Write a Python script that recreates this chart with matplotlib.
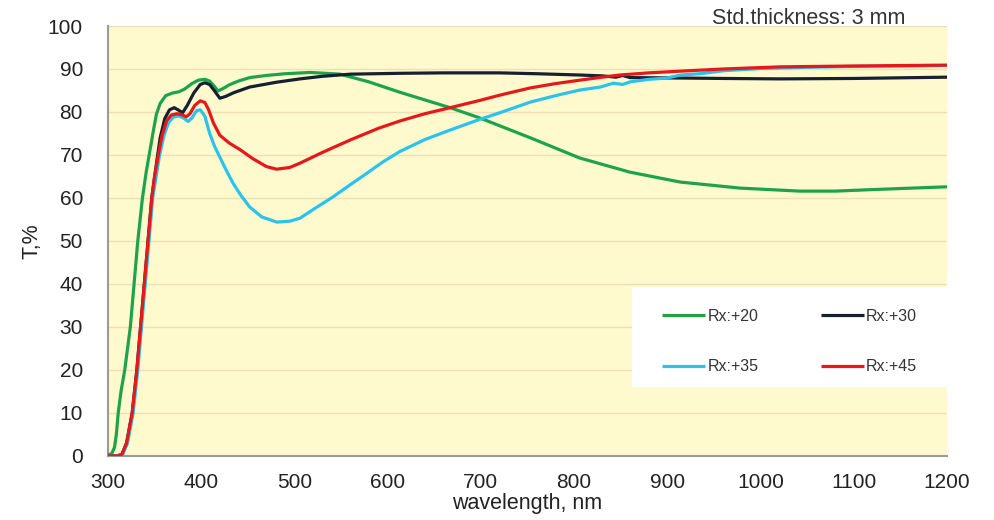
import numpy as np
import matplotlib
matplotlib.use("Agg")
import matplotlib.pyplot as plt
from matplotlib.patches import Rectangle

plt.rcParams['font.family'] = ['Liberation Sans', 'DejaVu Sans']

# Transmission spectra, 3 mm standard thickness
wl_20 = [300, 304, 307, 309, 311, 314, 318, 321, 324, 328, 332, 337, 341, 345, 349, 352,
         356, 362, 369, 376, 382, 390, 397, 404, 409, 414, 418, 423, 430, 440, 452, 470,
         490, 517, 549, 580, 613, 640, 667, 699, 753, 806, 860, 914, 978, 1042, 1080,
         1114, 1150, 1200]
t_20 = [0.3, 0.5, 2, 5, 10, 15, 20, 25, 30, 40, 50, 60, 66, 71, 76, 79.5,
        82.0, 83.8, 84.4, 84.7, 85.3, 86.6, 87.4, 87.6, 87.2, 86.0, 84.9, 85.4, 86.3, 87.2, 88.0, 88.5,
        88.9, 89.2, 88.8, 87.0, 84.6, 82.8, 81.0, 78.6, 74.0, 69.3, 66.0, 63.7, 62.3, 61.6, 61.6,
        61.9, 62.2, 62.6]

wl_30 = [300, 310, 315, 320, 326, 331, 335, 339, 343, 347, 352, 356, 361, 366, 371, 376,
         380, 385, 392, 399, 404, 409, 414, 420, 426, 435, 452, 480, 506, 530, 560, 613,
         660, 720, 760, 806, 830, 845, 852, 860, 914, 960, 1021, 1100, 1200]
t_30 = [0, 0, 0.4, 3, 10, 20, 30, 40, 50, 60, 68, 74, 78.5, 80.5, 81.0, 80.4,
        79.8, 81.5, 84.4, 86.4, 86.8, 86.4, 85.0, 83.2, 83.6, 84.5, 85.8, 86.9, 87.7, 88.3, 88.8, 89.0,
        89.1, 89.1, 88.9, 88.6, 88.4, 88.1, 88.5, 88.0, 87.9, 87.8, 87.7, 87.8, 88.1]

wl_35 = [300, 310, 316, 321, 327, 332, 336, 340, 344, 348, 355, 360, 365, 370, 376, 381,
         386, 390, 395, 399, 404, 409, 414, 420, 427, 434, 442, 452, 465, 481, 495, 506,
         520, 541, 560, 578, 595, 613, 640, 667, 699, 720, 753, 780, 806, 828, 842, 852,
         860, 880, 900, 914, 935, 960, 1000, 1050, 1100, 1200]
t_35 = [0, 0, 0.4, 3, 10, 20, 30, 40, 50, 60, 69.5, 74.5, 77.5, 78.8, 79.1, 78.6,
        77.8, 78.6, 80.3, 80.5, 79.0, 75.1, 72.2, 69.5, 66.4, 63.5, 60.8, 57.9, 55.6, 54.4, 54.6, 55.3,
        57.3, 60.2, 63.1, 65.8, 68.4, 70.8, 73.6, 75.8, 78.3, 79.8, 82.3, 83.8, 85.1, 85.8, 86.7, 86.4,
        87.0, 87.6, 87.9, 88.6, 88.9, 89.6, 90.1, 90.4, 90.6, 90.8]

wl_45 = [300, 310, 315, 320, 326, 331, 335, 339, 343, 347, 350, 354, 358, 363, 368, 374,
         379, 384, 388, 393, 399, 404, 408, 413, 420, 430, 442, 455, 470, 481, 495, 506,
         530, 560, 590, 613, 640, 667, 699, 720, 753, 780, 806, 830, 849, 880, 914, 960,
         1021, 1100, 1200]
t_45 = [0, 0, 0.4, 3, 10, 20, 30, 40, 50, 60, 65, 70, 74.5, 78.0, 79.3, 79.6,
        79.4, 78.9, 79.6, 81.5, 82.6, 82.2, 80.5, 77.5, 74.6, 72.8, 71.2, 69.2, 67.3, 66.7, 67.1, 68.1,
        70.6, 73.5, 76.2, 77.9, 79.6, 81.0, 82.7, 83.9, 85.6, 86.6, 87.4, 88.1, 88.6, 89.1, 89.5, 90.0,
        90.5, 90.7, 90.9]

series = [
    ('Rx:+20', wl_20, t_20, '#1ea34c'),
    ('Rx:+30', wl_30, t_30, '#162031'),
    ('Rx:+35', wl_35, t_35, '#2cc2ee'),
    ('Rx:+45', wl_45, t_45, '#e4191c'),
]

fig = plt.figure(figsize=(9.95, 5.2), dpi=100)
ax = fig.add_axes([0.1085, 0.1231, 0.8433, 0.8269])
ax.set_facecolor('#fefacd')

lines = {}
for name, wl, t, col in series:
    lines[name], = ax.plot(wl, t, color=col, lw=2.3, solid_capstyle='butt', label=name, zorder=3)

ax.set_xlim(300, 1200)
ax.set_ylim(0, 100)
ax.set_xticks(np.arange(300, 1201, 100))
ax.set_yticks(np.arange(0, 101, 10))
ax.grid(axis='y', color='#eedfb8', lw=1.0, zorder=0)
ax.set_axisbelow(True)

ax.tick_params(axis='both', length=0, labelsize=15, colors='#222222')
ax.tick_params(axis='y', pad=18)
ax.tick_params(axis='x', pad=12)
for side in ('top', 'right'):
    ax.spines[side].set_visible(False)
for side in ('left', 'bottom'):
    ax.spines[side].set_color('#9a9a9a')
    ax.spines[side].set_linewidth(1.5)

ax.set_xlabel('wavelength, nm', fontsize=15.5, color='#222222', labelpad=1)
ax.set_ylabel('T,%', fontsize=15.5, color='#222222', labelpad=4)

fig.text(0.716, 0.965, 'Std.thickness: 3 mm', fontsize=15.5, color='#333333',
         ha='left', va='center')

# white panel behind the legend
ax.add_patch(Rectangle((0.625, 0.16), 0.375, 0.233, transform=ax.transAxes,
                       facecolor='white', edgecolor='none', zorder=4))

handles = [lines['Rx:+20'], lines['Rx:+35'], lines['Rx:+30'], lines['Rx:+45']]
leg = ax.legend(handles=handles, labels=[h.get_label() for h in handles], ncol=2,
                loc='upper left', bbox_to_anchor=(0.66, 0.343),
                borderaxespad=0, borderpad=0, frameon=False,
                fontsize=11.5, handlelength=2.7, handletextpad=0.15,
                labelspacing=2.25, columnspacing=3.9)
leg.set_zorder(5)
for txt in leg.get_texts():
    txt.set_color('#333333')

fig.savefig('out.png', dpi=100, facecolor='white')
